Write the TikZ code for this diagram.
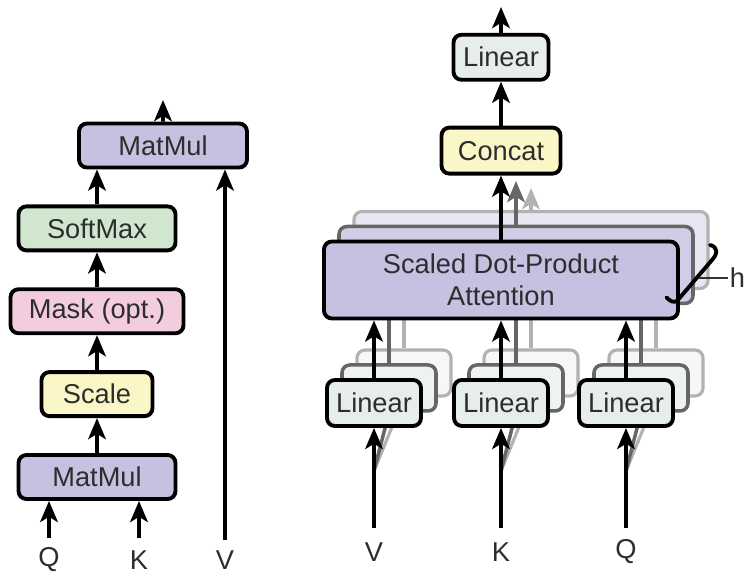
\documentclass[tikz,border=0pt]{standalone}
\usepackage{fontspec}
\setmainfont{Liberation Sans}
\usetikzlibrary{arrows.meta,positioning}

\definecolor{matpurple}{RGB}{199,192,225}
\definecolor{softgreen}{RGB}{208,230,207}
\definecolor{maskpink}{RGB}{243,205,222}
\definecolor{paleyellow}{RGB}{251,246,199}
\definecolor{linmint}{RGB}{231,237,234}
\definecolor{inkgray}{RGB}{45,45,45}

% stacked head copies sit behind the main drawing
\pgfdeclarelayer{far}
\pgfdeclarelayer{near}
\pgfsetlayers{far,near,main}

\begin{document}
\begin{tikzpicture}[>={Stealth[length=12pt,width=10pt,inset=3pt]},
    font=\fontsize{15.5}{18}\selectfont,
    block/.style={draw, line width=2.2pt, rounded corners=4.5pt, align=center, inner sep=0pt, minimum height=0.88cm, text=inkgray},
    flow/.style={->, line width=2.2pt},
    inlabel/.style={text=inkgray, inner sep=1pt},
    nearcopy/.style={draw=black!60, line width=2pt, rounded corners=4.5pt, inner sep=0pt},
    farcopy/.style={draw=black!30, line width=1.8pt, rounded corners=4.5pt, inner sep=0pt},
    nearline/.style={draw=black!60, line width=2pt},
    farline/.style={draw=black!30, line width=1.8pt}]
    \useasboundingbox (0,0) rectangle (15,11.52);

    % Scaled dot-product attention (left stack)
    \node[block, fill=matpurple, minimum width=3.14cm] (qkmul) at (1.94,1.98) {MatMul};
    \node[block, fill=paleyellow, minimum width=2.22cm, above=0.7cm of qkmul] (scale) {Scale};
    \node[block, fill=maskpink, minimum width=3.46cm, above=0.7cm of scale] (mask) {Mask (opt.)};
    \node[block, fill=softgreen, minimum width=3.14cm, above=0.7cm of mask] (softmax) {SoftMax};
    \node[block, fill=matpurple, minimum width=3.36cm, above=0.7cm of softmax, xshift=1.32cm] (vmul) {MatMul};
    \node[inlabel] (qleft) at (0.98,0.32) {Q};
    \node[inlabel] (kleft) at (2.78,0.32) {K};
    \node[inlabel] (vleft) at (4.50,0.32) {V};
    \coordinate (qstart) at (0.98,0.76);
    \coordinate (kstart) at (2.78,0.76);
    \coordinate (vstart) at (4.50,0.72);
    \coordinate (leftout) at (3.26,9.52);
    % Arrows
    \draw[flow] (qstart) -- (qstart |- qkmul.south);
    \draw[flow] (kstart) -- (kstart |- qkmul.south);
    \draw[flow] (qkmul) -- (scale);
    \draw[flow] (scale) -- (mask);
    \draw[flow] (mask) -- (softmax);
    \draw[flow] (softmax.north) -- (softmax.north |- vmul.south);
    \draw[flow] (vstart) -- (vstart |- vmul.south);
    \draw[flow] (vmul) -- (leftout);

    % Multi-head attention (right)
    \node[block, fill=matpurple, minimum width=7.08cm, minimum height=1.54cm] (attn) at (10.02,5.92) {Scaled Dot-Product\\Attention};
    \node[block, fill=paleyellow, minimum width=2.38cm, minimum height=0.92cm, above=1.28cm of attn] (concat) {Concat};
    \node[block, fill=linmint, minimum width=1.90cm, minimum height=0.90cm, above=0.88cm of concat] (outlin) {Linear};
    \coordinate (rightout) at (10.02,11.38);
    \draw[flow] (attn) -- (concat);
    \draw[flow] (concat) -- (outlin);
    \draw[flow] (outlin) -- (rightout);
    \foreach \x/\c/\lab in {7.48/v/V, 10.02/k/K, 12.52/q/Q} {
        \node[block, fill=linmint, minimum width=1.88cm, minimum height=0.92cm] (lin\c) at (\x,3.46) {Linear};
        \node[inlabel] (in\c) at (\x,0.48) {\lab};
        \coordinate (start\c) at (\x,0.96);
        \coordinate (fork\c) at (\x,2.1);
        \draw[flow] (start\c) -- (lin\c);
        \draw[flow] (lin\c.north) -- (lin\c.north |- attn.south);
    }

    % h heads brace
    \draw[line width=2.2pt, line cap=round] (13.33,5.57) .. controls (13.40,5.50) and (13.46,5.46) .. (13.54,5.50)
        -- (14.24,6.32) .. controls (14.36,6.45) and (14.36,6.58) .. (14.20,6.62);
    \node[inlabel] (heads) at (14.75,5.96) {h};
    \coordinate (bracemid) at (13.98,5.96);
    \draw[line width=1.2pt, black!80] (bracemid) -- (heads.west);

    % second head copies
    \begin{pgfonlayer}{near}
        \node[nearcopy, fill=matpurple!80!white, minimum width=7.08cm, minimum height=1.54cm] (attn2) at ([shift={(0.3,0.3)}]attn) {};
        \draw[nearline, ->, shorten >=0.11cm] (attn2.north) -- (attn2.north |- concat.south);
        \foreach \c in {v,k,q} {
            \node[nearcopy, fill=linmint!70!white, minimum width=1.88cm, minimum height=0.92cm] (lin\c2) at ([shift={(0.3,0.3)}]lin\c) {};
            \draw[nearline] (fork\c) -- (lin\c2.south);
            \draw[nearline] (lin\c2.north) -- (lin\c2.north |- attn2.south);
        }
    \end{pgfonlayer}

    % third head copies
    \begin{pgfonlayer}{far}
        \node[farcopy, fill=matpurple!40!white, minimum width=7.08cm, minimum height=1.54cm] (attn3) at ([shift={(0.6,0.6)}]attn) {};
        \draw[farline, ->, shorten >=0.25cm] (attn3.north) -- (attn3.north |- concat.south);
        \foreach \c in {v,k,q} {
            \node[farcopy, fill=linmint!40!white, minimum width=1.88cm, minimum height=0.92cm] (lin\c3) at ([shift={(0.6,0.6)}]lin\c) {};
            \draw[farline] (fork\c) -- (lin\c3.south);
            \draw[farline] (lin\c3.north) -- (lin\c3.north |- attn3.south);
        }
    \end{pgfonlayer}
\end{tikzpicture}
\end{document}
